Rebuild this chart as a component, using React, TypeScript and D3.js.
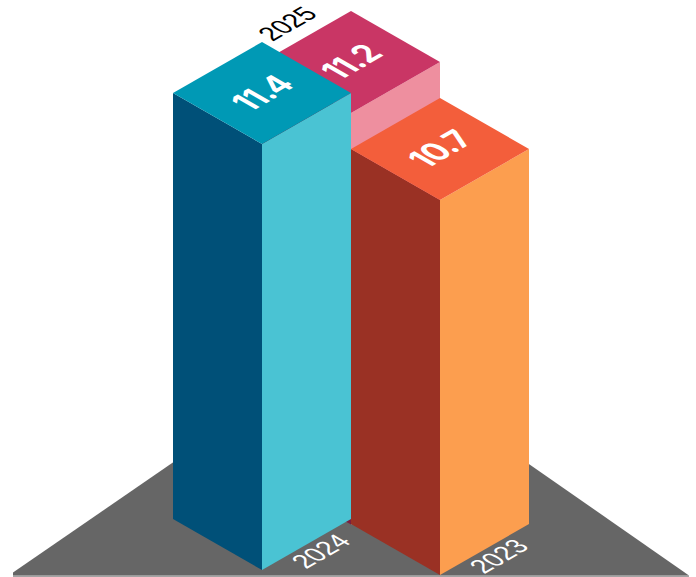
import React from "react";
import * as d3 from "d3";

const years = ["2025", "2024", "2023"];
const values = [11.2, 11.4, 10.7];
const topColors = ["#C93665", "#0099B5", "#F35E3B"];
const leftColors = ["#7A2040", "#005078", "#9A3124"];
const rightColors = ["#EE8F9F", "#4AC3D3", "#FC9E4F"];

const W = 696;
const H = 577;

// Half-width and half-depth of one isometric block
const DX = 89;
const DY = 51;

// Vertical extent of a block for a given value (the axis does not start at zero)
const heightScale = d3.scaleLinear().domain([10.7, 11.4]).range([375, 426]);

// Centre of each block's footprint on the floor, per year
const floorX = d3.scaleOrdinal<string, number>().domain(years).range([351, 262, 440]);
const floorY = d3.scaleOrdinal<string, number>().domain(years).range([473.4, 519, 524]);

const line = d3.line<[number, number]>().curve(d3.curveLinearClosed);

const floorShape: [number, number][] = [
  [351, 340],
  [689, 575.5],
  [13, 575.5],
  [13, 572.5],
];

// All labels lie in the floor plane: they run up and to the right, glyphs slightly stretched
const onFloor = (x: number, y: number) => `matrix(0.866 -0.5 1 0.577 ${x} ${y})`;

export default function App() {
  return (
    <svg
      width={W}
      height={H}
      viewBox={`0 0 ${W} ${H}`}
      style={{ position: "absolute", left: 0, top: 0, display: "block" }}
    >
      <rect x={13} y={575.5} width={676} height={1.5} fill="#A3A3A3" />
      <path d={line(floorShape) ?? ""} fill="#666666" />

      {years.map((year, i) => {
        const cx = floorX(year);
        const by = floorY(year);
        const ty = by - heightScale(values[i]);
        const top: [number, number][] = [
          [cx, ty - DY],
          [cx + DX, ty],
          [cx, ty + DY],
          [cx - DX, ty],
        ];
        const left: [number, number][] = [
          [cx - DX, ty],
          [cx, ty + DY],
          [cx, by + DY],
          [cx - DX, by],
        ];
        const right: [number, number][] = [
          [cx + DX, ty],
          [cx, ty + DY],
          [cx, by + DY],
          [cx + DX, by],
        ];
        return (
          <g key={year}>
            <path d={line(left) ?? ""} fill={leftColors[i]} />
            <path d={line(right) ?? ""} fill={rightColors[i]} />
            <path d={line(top) ?? ""} fill={topColors[i]} />
            <text
              transform={onFloor(cx, ty)}
              textAnchor="middle"
              dy="0.36em"
              fontFamily="Inter, Roboto, sans-serif"
              fontWeight={700}
              fontSize={30}
              letterSpacing={-0.8}
              fill="#FFFFFF"
            >
              {values[i].toFixed(1)}
            </text>
          </g>
        );
      })}

      {years.map((year) => {
        const cx = floorX(year);
        const by = floorY(year);
        const isBack = year === "2025";
        const tx = isBack ? cx - 64 : cx + 58.5;
        const ty = isBack ? by - 450 : by + 32;
        return (
          <text
            key={year}
            transform={onFloor(tx, ty)}
            textAnchor="middle"
            dy="0.36em"
            fontFamily="Liberation Sans, Arial, sans-serif"
            fontSize={24}
            fill={isBack ? "#000000" : "#FFFFFF"}
          >
            {year}
          </text>
        );
      })}
    </svg>
  );
}
